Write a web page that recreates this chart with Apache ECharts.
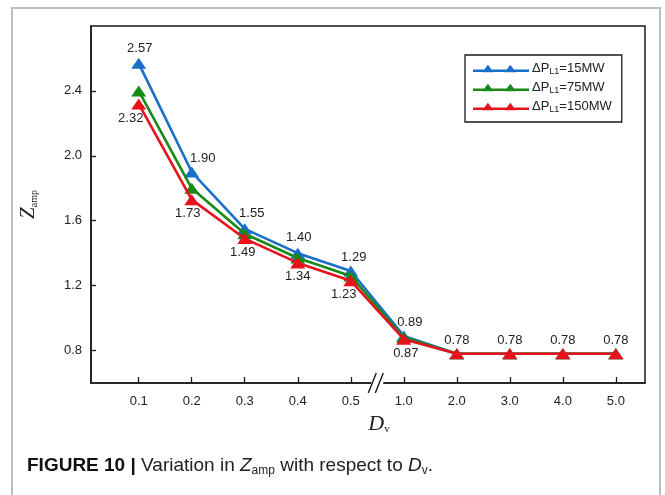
<!DOCTYPE html>
<html>
<head>
<meta charset="utf-8">
<script src="https://cdn.jsdelivr.net/npm/echarts/dist/echarts.min.js"></script>
<style>
html,body{margin:0;padding:0;background:#fff;}
#chart{width:665px;height:495px;}
</style>
</head>
<body>
<div id="chart"></div>
<script>
// ---- data ----
const categories = ['0.1','0.2','0.3','0.4','0.5','1.0','2.0','3.0','4.0','5.0'];
const seriesNames = ['15MW','75MW','150MW'];
const blueValues  = [2.57, 1.90, 1.55, 1.40, 1.29, 0.89, 0.78, 0.78, 0.78, 0.78];
const greenValues = [2.40, 1.80, 1.52, 1.37, 1.26, 0.88, 0.78, 0.78, 0.78, 0.78];
const redValues   = [2.32, 1.73, 1.49, 1.34, 1.23, 0.87, 0.78, 0.78, 0.78, 0.78];
const yTicks = [0.8, 1.2, 1.6, 2.0, 2.4];

// label offsets (style only)
const blueLabelOffsets = [[1,-15],[11,-14],[7,-15],[1,-16],[3,-14],[6,-14],null,null,null,null];
const redLabelOffsets  = [[-8,15],[-4,14],[-2,14],[0,14],[-7,14],[2,14],[0,-13],[0,-13],[0,-13],[0,-13]];

const colors = ['#1a6fc8', '#178a17', '#e8121c'];
const legendIcon = 'path://M0,5.2 L60,5.2 L60,7.8 L0,7.8 Z M16,0 L22,8 L10,8 Z M40,0 L46,8 L34,8 Z';

function buildData(values, offsets) {
  return values.map((v, i) => {
    const d = { value: [i, v] };
    if (offsets && offsets[i]) {
      d.label = { show: true, position: 'inside', offset: offsets[i] };
    }
    return d;
  });
}

function makeSeries(name, values, color, offsets, z) {
  return {
    name: name,
    type: 'line',
    data: buildData(values, offsets),
    symbol: 'triangle',
    symbolSize: [15, 11],
    z: z,
    lineStyle: { color: color, width: 2.6 },
    itemStyle: { color: color },
    label: {
      show: false,
      color: '#222',
      fontSize: 13,
      fontFamily: 'Liberation Sans, Arial, sans-serif',
      formatter: p => p.value[1].toFixed(2)
    },
    emphasis: { disabled: true },
    animation: false
  };
}

const chart = echarts.init(document.getElementById('chart'), null, { renderer: 'canvas' });

const font = 'Liberation Sans, Arial, sans-serif';

const option = {
  backgroundColor: '#fff',
  animation: false,
  grid: {
    left: 91, right: 20, top: 26, bottom: 112,
    show: true, borderColor: '#1a1a1a', borderWidth: 1.5, backgroundColor: 'transparent'
  },
  legend: {
    left: 465, top: 55,
    orient: 'vertical',
    width: 157,
    padding: [7, 10, 8, 8],
    itemGap: 5,
    itemWidth: 56,
    itemHeight: 9,
    borderColor: '#1a1a1a',
    borderWidth: 1.3,
    icon: legendIcon,
    data: ['15MW','75MW','150MW'],
    formatter: n => 'ΔP{sub|L1}=' + n,
    textStyle: {
      fontFamily: font, fontSize: 13, color: '#222', padding: [0,0,0,-2],
      rich: { sub: { fontSize: 9, fontFamily: font, color: '#222', verticalAlign: 'bottom', padding: [6,0,0,0] } }
    }
  },
  xAxis: {
    type: 'value',
    min: -0.9, max: 9.55,
    name: 'D{sub|v}',
    nameLocation: 'middle',
    nameGap: 25,
    nameTextStyle: {
      fontFamily: 'Liberation Serif, Times New Roman, serif', fontStyle: 'italic', fontSize: 22, color: '#222',
      padding: [0, 0, 0, 22],
      rich: { sub: { fontFamily: 'Liberation Serif, serif', fontStyle: 'normal', fontSize: 11, color: '#222', verticalAlign: 'bottom', padding: [11,0,0,0] } }
    },
    splitLine: { show: false },
    axisLine: { show: true, onZero: false, lineStyle: { color: '#1a1a1a', width: 1.5 } },
    axisTick: { show: true, inside: true, length: 6, lineStyle: { color: '#1a1a1a', width: 1.3 },
      customValues: categories.map((c, i) => i) },
    axisLabel: { fontFamily: font, fontSize: 13, color: '#222', margin: 12,
      customValues: categories.map((c, i) => i),
      formatter: v => categories[Math.round(v)] }
  },
  yAxis: {
    type: 'value',
    min: 0.6, max: 2.8,
    name: 'Z{sub|amp}',
    nameLocation: 'middle',
    nameRotate: 90,
    nameGap: 52,
    nameTextStyle: {
      fontFamily: 'Liberation Serif, Times New Roman, serif', fontStyle: 'italic', fontSize: 21, color: '#222',
      rich: { sub: { fontFamily: 'Liberation Serif, serif', fontStyle: 'normal', fontSize: 10, color: '#222', verticalAlign: 'bottom', padding: [10,0,0,0] } }
    },
    splitLine: { show: false },
    axisLine: { show: true, onZero: false, lineStyle: { color: '#1a1a1a', width: 1.5 } },
    axisTick: { show: true, inside: true, length: 5, lineStyle: { color: '#1a1a1a', width: 1.3 }, customValues: yTicks },
    axisLabel: { fontFamily: font, fontSize: 13, color: '#222', margin: 9, customValues: yTicks,
      formatter: v => v.toFixed(1) }
  },
  series: [
    makeSeries('15MW', blueValues, colors[0], blueLabelOffsets, 2),
    makeSeries('75MW', greenValues, colors[1], null, 3),
    makeSeries('150MW', redValues, colors[2], redLabelOffsets, 4)
  ]
};
chart.setOption(option);

// decorations: outer frame, axis break mark, caption
const bp = chart.convertToPixel({ xAxisIndex: 0, yAxisIndex: 0 }, [4.5, 0.6]);
chart.setOption({
  graphic: [
    { type: 'polyline', shape: { points: [[12, 500], [12, 8], [660, 8], [660, 500]] },
      style: { stroke: '#bdbdbd', lineWidth: 2, fill: null }, silent: true },
    { type: 'rect', shape: { x: bp[0] - 6, y: bp[1] - 2, width: 12, height: 4 },
      style: { fill: '#fff' }, z: 100 },
    { type: 'line', shape: { x1: bp[0] - 9, y1: bp[1] + 10, x2: bp[0] - 1, y2: bp[1] - 10 },
      style: { stroke: '#1a1a1a', lineWidth: 1.4 }, z: 101 },
    { type: 'line', shape: { x1: bp[0] - 2, y1: bp[1] + 10, x2: bp[0] + 6, y2: bp[1] - 10 },
      style: { stroke: '#1a1a1a', lineWidth: 1.4 }, z: 101 },
    { type: 'text', left: 27, top: 456, z: 100,
      style: {
        text: '{b|FIGURE 10 |} {n|Variation in }{i|Z}{s|amp}{n| with respect to }{i|D}{s|v}{n|.}',
        fill: '#222',
        font: '19px Liberation Sans, Arial, sans-serif',
        rich: {
          b: { fontWeight: 'bold', fontSize: 19, fontFamily: font, fill: '#111' },
          n: { fontSize: 19, fontFamily: font, fill: '#222' },
          i: { fontStyle: 'italic', fontSize: 19, fontFamily: font, fill: '#222' },
          s: { fontSize: 12, fontFamily: font, fill: '#222', verticalAlign: 'bottom', padding: [10, 0, 0, 0] }
        }
      } }
  ]
});
</script>
</body>
</html>
